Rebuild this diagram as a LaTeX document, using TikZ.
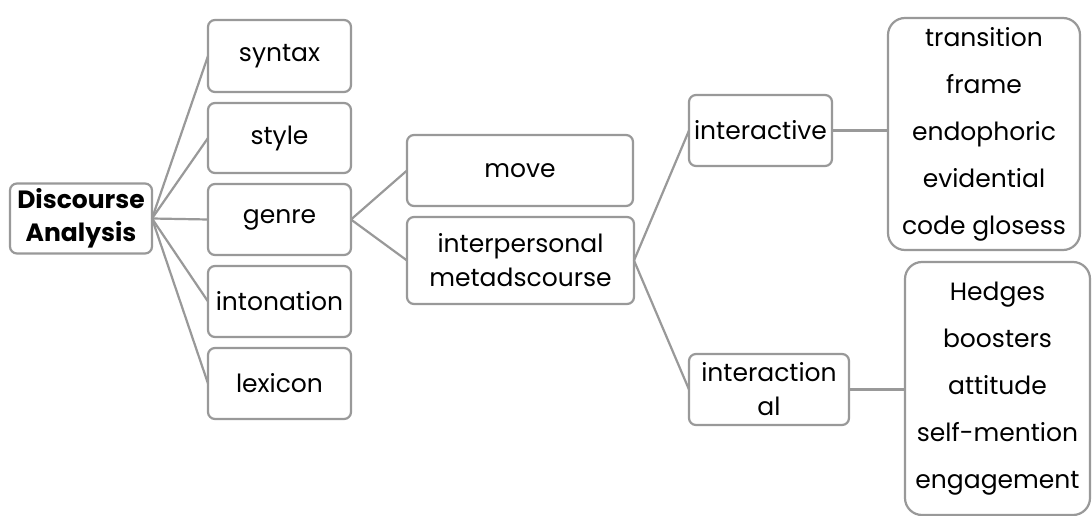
\documentclass[tikz,border=0pt]{standalone}
\usepackage{fontspec}
\setmainfont{Poppins}
\definecolor{edge}{HTML}{999999}
\begin{document}
\begin{tikzpicture}[x=1pt,y=-1pt,
  box/.style={draw=edge, line width=2.2pt, rounded corners=7pt, fill=white,
    inner sep=0pt, outer sep=0pt, align=center, font=\fontsize{25}{34}\selectfont},
  listbox/.style={box, rounded corners=17pt, font=\fontsize{25}{47}\selectfont},
  conn/.style={draw=edge, line width=2.2pt}]
\useasboundingbox (0,0) rectangle (1092,516);
\fill[white] (0,0) rectangle (1092,516);
\node[box, minimum width=142pt, minimum height=70pt, font=\fontsize{25}{33}\selectfont\bfseries] (da) at (81,218.5) {Discourse\\Analysis};
\node[box, minimum width=143pt, minimum height=72pt] (syn) at (279.5,56) {syntax};
\node[box, minimum width=143pt, minimum height=70pt] (sty) at (279.5,138) {style};
\node[box, minimum width=143pt, minimum height=71pt] (gen) at (279.5,219.5) {genre};
\node[box, minimum width=143pt, minimum height=71pt] (int) at (279.5,301.5) {intonation};
\node[box, minimum width=143pt, minimum height=71pt] (lex) at (279.5,383.5) {lexicon};
\node[box, minimum width=226pt, minimum height=71pt] (mov) at (520,170.5) {move};
\node[box, minimum width=227pt, minimum height=87pt] (ipm) at (520.5,260.5) {interpersonal\\metadscourse};
\node[box, minimum width=143pt, minimum height=71pt] (iac) at (760.5,130.5) {interactive};
\node[listbox, minimum width=192pt, minimum height=232pt] (trl) at (984,134) {transition\\frame\\endophoric\\evidential\\code glosess};
\node[box, minimum width=160pt, minimum height=71pt] (ial) at (769,389.5) {interaction\\al};
\node[listbox, minimum width=185pt, minimum height=253pt] (hed) at (997.5,388.5) {Hedges\\boosters\\attitude\\self-mention\\engagement};
\draw[conn] (da.east) -- (syn.west);
\draw[conn] (da.east) -- (sty.west);
\draw[conn] (da.east) -- (gen.west);
\draw[conn] (da.east) -- (int.west);
\draw[conn] (da.east) -- (lex.west);
\draw[conn] (gen.east) -- (mov.west);
\draw[conn] (gen.east) -- (ipm.west);
\draw[conn] (ipm.east) -- (iac.west);
\draw[conn] (ipm.east) -- (ial.west);
\draw[conn] (iac.east) -- (iac.east -| trl.west);
\draw[conn] (ial.east) -- (ial.east -| hed.west);
\end{tikzpicture}
\end{document}
